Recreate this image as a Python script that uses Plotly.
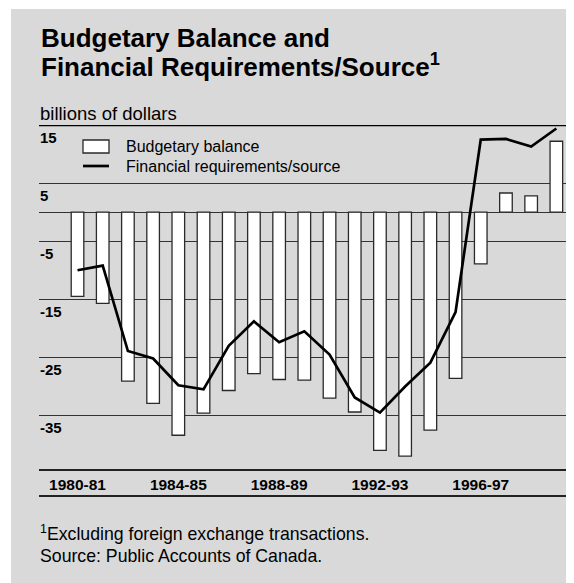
import plotly.graph_objects as go

# ---------------- data ----------------
fiscal_years = ["1980-81", "1981-82", "1982-83", "1983-84", "1984-85",
                "1985-86", "1986-87", "1987-88", "1988-89", "1989-90",
                "1990-91", "1991-92", "1992-93", "1993-94", "1994-95",
                "1995-96", "1996-97", "1997-98", "1998-99", "1999-00"]
budgetary_balance = [-14.5, -15.7, -29.1, -32.9, -38.4, -34.6, -30.7, -27.8,
                     -28.8, -28.9, -32.0, -34.4, -41.0, -42.0, -37.5, -28.6,
                     -8.9, 3.3, 2.8, 12.2]
financial_requirements = [-10.0, -9.2, -23.9, -25.2, -29.8, -30.5, -23.0, -18.8,
                          -22.4, -20.5, -24.5, -31.9, -34.5, -30.0, -25.9, -17.2,
                          12.5, 12.6, 11.3, 14.4]
x_tick_labels = ["1980-81", "1984-85", "1988-89", "1992-93", "1996-97"]
y_grid_values = [15, 5, -5, -15, -25, -35]
y_tick_labels = ["15", "5", "-5", "-15", "-25", "-35"]
series_names = ["Budgetary balance", "Financial requirements/source"]

title_lines = ["Budgetary Balance and", "Financial Requirements/Source<sup>1</sup>"]
unit_label = "billions of dollars"
footnotes = ["<sup>1</sup>Excluding foreign exchange transactions.",
             "Source: Public Accounts of Canada."]

# ---------------- layout helpers (screen pixels, page has 8px body margin) ----------------
OFF = 8
W, H = 574, 583
PLOT_LEFT, PLOT_RIGHT, PLOT_TOP, PLOT_BOTTOM = 39, 574, 125, 470  # screen px
L = PLOT_LEFT - OFF
T = PLOT_TOP - OFF
R = W - (PLOT_RIGHT - OFF)
B = H - (PLOT_BOTTOM - OFF)
PW, PH = W - L - R, H - T - B


def px(x):
    return (x - PLOT_LEFT) / PW


def py(y):
    return (PLOT_BOTTOM - y) / PH


FONT = "Liberation Sans, Arial, Helvetica, sans-serif"
BG = "#d9d9d9"
GRID = "#333333"

fig = go.Figure()
fig.add_bar(x=fiscal_years, y=budgetary_balance, width=0.5,
            marker=dict(color="white", line=dict(color="#2a2a2a", width=1.3)),
            name=series_names[0], showlegend=False)
fig.add_scatter(x=fiscal_years, y=financial_requirements, mode="lines",
                line=dict(color="black", width=2.7),
                name=series_names[1], showlegend=False)

shapes = [
    # gray panel
    dict(type="rect", xref="paper", yref="paper", x0=px(11), x1=px(W + 20),
         y0=py(H + 20), y1=py(9), fillcolor=BG, line=dict(width=0), layer="below"),
    # thick top rule at 15
    dict(type="line", xref="paper", yref="y", x0=0, x1=1, y0=15, y1=15,
         line=dict(color="black", width=2.5)),
    # x label band rules
    dict(type="line", xref="paper", yref="paper", x0=0, x1=1, y0=0, y1=0,
         line=dict(color="#222222", width=2)),
    dict(type="line", xref="paper", yref="paper", x0=0, x1=1, y0=py(496), y1=py(496),
         line=dict(color="#222222", width=2)),
    # legend swatches
    dict(type="rect", xref="paper", yref="paper", x0=px(83), x1=px(109),
         y0=py(153), y1=py(140), fillcolor="white", line=dict(color="#2a2a2a", width=1.3)),
    dict(type="line", xref="paper", yref="paper", x0=px(83), x1=px(109),
         y0=py(166), y1=py(166), line=dict(color="black", width=2.7)),
]

annotations = []
# title
for txt, yc in zip(title_lines, [38, 66]):
    annotations.append(dict(text=txt, xref="paper", yref="paper", x=px(39), y=py(yc),
                            xanchor="left", yanchor="middle", showarrow=False,
                            font=dict(family=FONT, size=26, color="black", weight="bold")))
# unit label
annotations.append(dict(text=unit_label, xref="paper", yref="paper", x=px(38), y=py(113),
                        xanchor="left", yanchor="middle", showarrow=False,
                        font=dict(family=FONT, size=18.5, color="black")))
# y tick labels below each rule
for v, lab in zip(y_grid_values, y_tick_labels):
    annotations.append(dict(text=lab, xref="paper", yref="y", x=px(38), y=v, yshift=-12,
                            xanchor="left", yanchor="middle", showarrow=False,
                            font=dict(family=FONT, size=15, color="black", weight="bold")))
# legend labels
for name, yc in zip(series_names, [146, 166]):
    annotations.append(dict(text=name, xref="paper", yref="paper", x=px(124), y=py(yc),
                            xanchor="left", yanchor="middle", showarrow=False,
                            font=dict(family=FONT, size=16, color="black")))
# footnotes
for txt, yc in zip(footnotes, [533, 556]):
    annotations.append(dict(text=txt, xref="paper", yref="paper", x=px(38), y=py(yc),
                            xanchor="left", yanchor="middle", showarrow=False,
                            font=dict(family=FONT, size=17.7, color="black")))

fig.update_layout(
    width=W, height=H,
    margin=dict(l=L, r=R, t=T, b=B, autoexpand=False),
    paper_bgcolor="white", plot_bgcolor=BG,
    showlegend=False,
    bargap=0.5,
    shapes=shapes, annotations=annotations,
    xaxis=dict(type="category", range=[-1.528, 19.70], tickmode="array",
               tickvals=x_tick_labels, ticktext=x_tick_labels, showgrid=False,
               zeroline=False, showline=False, ticks="", ticklabelstandoff=3,
               tickfont=dict(family=FONT, size=15.5, color="black", weight="bold")),
    yaxis=dict(range=[-44.38, 15], tickmode="array", tickvals=y_grid_values,
               showticklabels=False, showgrid=True, gridcolor=GRID, gridwidth=1.2,
               zeroline=True, zerolinecolor=GRID, zerolinewidth=1.2, showline=False,
               ticks=""),
)

fig.write_html("out.html")
